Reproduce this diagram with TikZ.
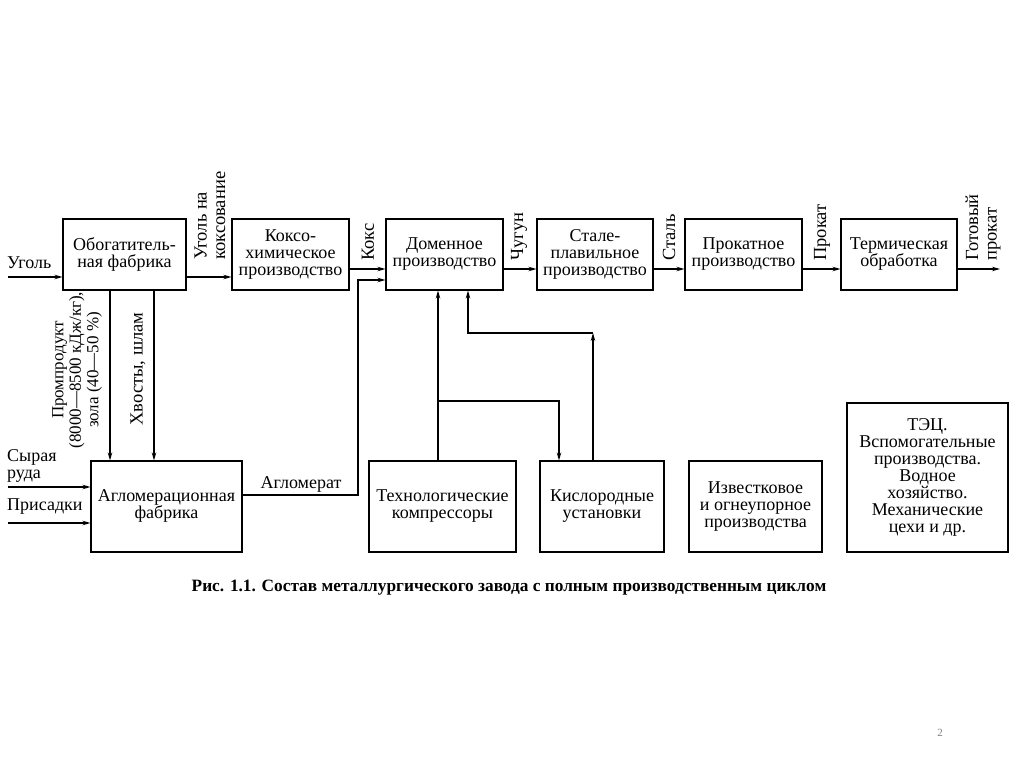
\documentclass[tikz,border=0pt]{standalone}
\usepackage{fontspec}
\setmainfont{Liberation Serif}
\usetikzlibrary{arrows.meta}
\begin{document}
\begin{tikzpicture}[x=1pt,y=-1pt,
  every node/.style={font=\fontsize{18}{17}\selectfont, inner sep=0pt},
  box/.style={draw, line width=1.1pt, align=center, minimum height=71pt},
  arr/.style={line width=1.1pt, -{Stealth[length=8pt,width=4.5pt]}},
  ln/.style={line width=1.1pt},
  lab/.style={rotate=90, anchor=west, align=left, font=\fontsize{18.5}{18.5}\selectfont},
]
\useasboundingbox (0,0) rectangle (1024,767);
\fill[white] (0,0) rectangle (1024,767);
% top row
\node[box, minimum width=123pt] (b1) at (124.5,254.5) {Обогатитель-\\ная фабрика};
\node[box, minimum width=117pt] (b2) at (290.5,254.5) {Коксо-\\химическое\\производство};
\node[box, minimum width=117pt] (b3) at (444.5,254.5) {Доменное\\производство};
\node[box, minimum width=116pt] (b4) at (595,254.5) {Стале-\\плавильное\\производство};
\node[box, minimum width=117pt] (b5) at (743.5,254.5) {Прокатное\\производство};
\node[box, minimum width=116pt] (b6) at (899,254.5) {Термическая\\обработка};
% bottom row
\node[box, minimum width=151pt, minimum height=91pt] (a1) at (166.5,506.5) {\\[-6pt]Агломерационная\\фабрика};
\node[box, minimum width=147pt, minimum height=91pt] (t1) at (442.5,506.5) {Технологические\\компрессоры};
\node[box, minimum width=124pt, minimum height=91pt] (k1) at (602,506.5) {Кислородные\\установки};
\node[box, minimum width=133pt, minimum height=91pt] (i1) at (755.5,506.5) {Известковое\\и огнеупорное\\производства};
\node[box, minimum width=161pt, minimum height=149pt] (e1) at (927.5,477.5) {ТЭЦ.\\Вспомогательные\\производства.\\Водное\\хозяйство.\\Механические\\цехи и др.};
% helper coordinates
\coordinate (uin) at (8,277);
\coordinate (gout) at (1000,269);
\coordinate (x110) at (110,0);
\coordinate (x154) at (154,0);
\coordinate (rin) at (8,487);
\coordinate (pin) at (8,523);
\coordinate (ag1) at (358,495);
\coordinate (ag2) at (358,280);
\coordinate (x438) at (438,0);
\coordinate (x468) at (468,0);
\coordinate (x559) at (559,0);
\coordinate (x593) at (593,0);
\coordinate (j1) at (438,401);
\coordinate (j2) at (559,401);
\coordinate (k2) at (593,333);
\coordinate (k3) at (468,333);
% connectors top
\draw[arr] (uin) -- (uin -| b1.west);
\draw[arr] ([yshift=-22.5pt]b1.east) -- ([yshift=-22.5pt]b2.west);
\draw[arr] ([yshift=-14.5pt]b2.east) -- ([yshift=-14.5pt]b3.west);
\draw[arr] ([yshift=-14.5pt]b3.east) -- ([yshift=-14.5pt]b4.west);
\draw[arr] ([yshift=-14.5pt]b4.east) -- ([yshift=-14.5pt]b5.west);
\draw[arr] ([yshift=-14.5pt]b5.east) -- ([yshift=-14.5pt]b6.west);
\draw[arr] ([yshift=-14.5pt]b6.east) -- (gout);
% down to aglo
\draw[arr] (b1.south -| x110) -- (a1.north -| x110);
\draw[arr] (b1.south -| x154) -- (a1.north -| x154);
\draw[arr] (rin) -- (rin -| a1.west);
\draw[arr] (pin) -- (pin -| a1.west);
\draw[arr] (a1.east |- ag1) -- (ag1) -- (ag2) -- (ag2 -| b3.west);
% compressors and oxygen
\draw[arr] (t1.north -| x438) -- (b3.south -| x438);
\draw[arr] (j1) -- (j2) -- (k1.north -| x559);
\draw[arr] (k1.north -| x593) -- (k2);
\draw[arr] (k2) -- (k3) -- (b3.south -| x468);
% labels
\node[anchor=base west] (lu) at (7,268) {Уголь};
\node[anchor=south west, align=left] (lr) at (7,483) {Сырая\\руда};
\node[anchor=base west] (lp) at (7,510) {Присадки};
\node[anchor=base] (la) at (301,488) {Агломерат};
\node[lab] (lk1) at (210,260) {Уголь на\\коксование};
\node[lab] (lk2) at (368,261) {Кокс};
\node[lab] (lch) at (519,261) {Чугун};
\node[lab] (lst) at (669,261) {Сталь};
\node[lab] (lpr) at (822,261) {Прокат};
\node[lab] (lgp) at (983,261) {Готовый\\прокат};
\node[rotate=90, align=center, font=\fontsize{17}{17.5}\selectfont] (lpp) at (77,370) {Промпродукт\\(8000—8500 кДж/кг),\\зола (40—50 \%)};
\node[rotate=90, font=\fontsize{18.5}{18.5}\selectfont] (lhv) at (138,369) {Хвосты, шлам};
% caption
\node[font=\fontsize{17.3}{19}\bfseries\selectfont] (cap) at (509,588) {Рис. 1.1. Состав металлургического завода с полным производственным циклом};
\node[font=\fontsize{11}{12}\selectfont, text=gray] (pg) at (940,733) {2};
\end{tikzpicture}
\end{document}
